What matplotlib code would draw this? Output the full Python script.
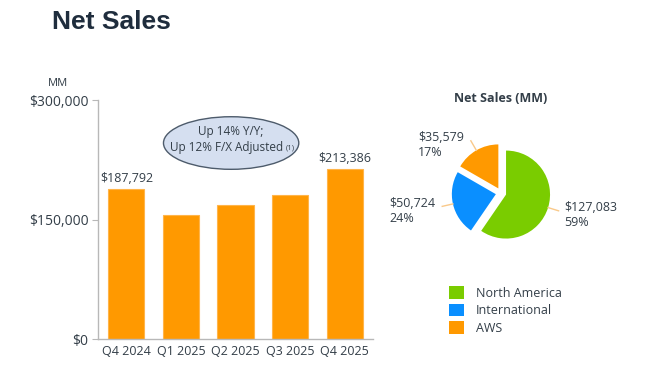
import numpy as np
import matplotlib
matplotlib.use("Agg")
import matplotlib.pyplot as plt
from matplotlib.patches import Ellipse

plt.rcParams['font.family'] = ['Open Sans', 'DejaVu Sans']

# data
quarters = ['Q4 2024', 'Q1 2025', 'Q2 2025', 'Q3 2025', 'Q4 2025']
net_sales = [187792, 155667, 167702, 180169, 213386]
labeled_bars = [0, 4]

segments = ['North America', 'International', 'AWS']
segment_sales = [127083, 50724, 35579]
segment_pct = ['59%', '24%', '17%']

y_ticks = [0, 150000, 300000]

ORANGE = '#ff9900'
GREEN = '#7acc00'
BLUE = '#0a8fff'
TXT = '#333e48'

W, H = 650, 386
fig = plt.figure(figsize=(W / 100, H / 100), dpi=100)

def px_axes(x0, y0, x1, y1):
    # pixel box (top-left origin) -> figure axes
    return fig.add_axes([x0 / W, 1 - y1 / H, (x1 - x0) / W, (y1 - y0) / H])

fig.text(52 / W, 1 - 22 / H, 'Net Sales', fontsize=19, fontweight='bold',
         color='#1f2d3d', family=['Liberation Sans', 'DejaVu Sans'],
         ha='left', va='center')

# bar chart
ax = px_axes(98, 100, 373, 339)
x = np.arange(len(quarters))
ax.bar(x, net_sales, width=0.66, color=ORANGE, edgecolor='#ffb54a', linewidth=0.8)
ax.set_xlim(-0.52, len(quarters) - 0.48)
ax.set_ylim(0, 300000)
ax.set_yticks(y_ticks)
ax.set_yticklabels([f'${v:,}' for v in y_ticks], fontsize=10, color=TXT)
ax.set_xticks(x)
ax.set_xticklabels(quarters, fontsize=9, color=TXT)
for s in ['top', 'right']:
    ax.spines[s].set_visible(False)
for s in ['left', 'bottom']:
    ax.spines[s].set_color('#b8b8b8')
    ax.spines[s].set_linewidth(1)
ax.tick_params(axis='y', length=4, color='#b8b8b8', pad=3)
ax.tick_params(axis='x', length=0, pad=4)
for i in labeled_bars:
    ax.text(x[i], net_sales[i] + 5000, f'${net_sales[i]:,}', ha='center',
            va='bottom', fontsize=9, color=TXT)
fig.text(58 / W, 1 - 83 / H, 'MM', fontsize=8, color=TXT, ha='center', va='center')

# callout bubble
ell = Ellipse((1.92, 246000), width=2.48, height=66000, facecolor='#d5dff0',
              edgecolor='#4d5b6b', linewidth=1, zorder=3)
ax.add_patch(ell)
ax.text(1.92, 260000, 'Up 14% Y/Y;', ha='center', va='center', fontsize=8.5,
        color=TXT, zorder=4)
t2 = ax.text(1.84, 241000, 'Up 12% F/X Adjusted', ha='center', va='center',
             fontsize=8.5, color=TXT, zorder=4)
ax.annotate('(1)', xy=(1, 0.15), xycoords=t2, xytext=(2, 0),
            textcoords='offset points', ha='left', va='bottom', fontsize=5.5,
            color=TXT, zorder=4)

# pie chart
pax = px_axes(501 - 88, 193 - 88, 501 + 88, 193 + 88)
wedges, _ = pax.pie(segment_sales, colors=[GREEN, BLUE, ORANGE], startangle=90,
                    counterclock=False, explode=[0.12, 0.12, 0.12], radius=1,
                    wedgeprops=dict(linewidth=0))
pax.set_xlim(-2, 2)
pax.set_ylim(-2, 2)
pax.set_aspect('equal')
pax.axis('off')

for w, v, p in zip(wedges, segment_sales, segment_pct):
    ang = np.deg2rad((w.theta1 + w.theta2) / 2)
    cx, cy = w.center
    ex, ey = cx + 1.0 * np.cos(ang), cy + 1.0 * np.sin(ang)
    lx, ly = cx + 1.25 * np.cos(ang), cy + 1.25 * np.sin(ang)
    pax.plot([ex, lx], [ey, ly], color='#f9c98a', lw=1, clip_on=False)
    if np.cos(ang) > 0:
        pax.text(lx + 0.12, ly - 0.1, f'${v:,}\n{p}', ha='left', va='center',
                 fontsize=9, color=TXT, linespacing=1.25)
    else:
        pax.text(lx - 0.15, ly - 0.1, f'${v:,}\n{p}', ha='right', va='center',
                 fontsize=9, color=TXT, linespacing=1.25, multialignment='left')

fig.text(501 / W, 1 - 98 / H, 'Net Sales (MM)', ha='center', va='center',
         fontsize=9, fontweight='bold', color=TXT)

fig.legend(wedges, segments, loc='upper left',
           bbox_to_anchor=(438 / W, 1 - 275 / H), frameon=False, fontsize=9,
           handlelength=1.2, handleheight=1.2, handletextpad=0.9,
           labelspacing=0.3, labelcolor=TXT)

fig.savefig('out.png', dpi=100)
